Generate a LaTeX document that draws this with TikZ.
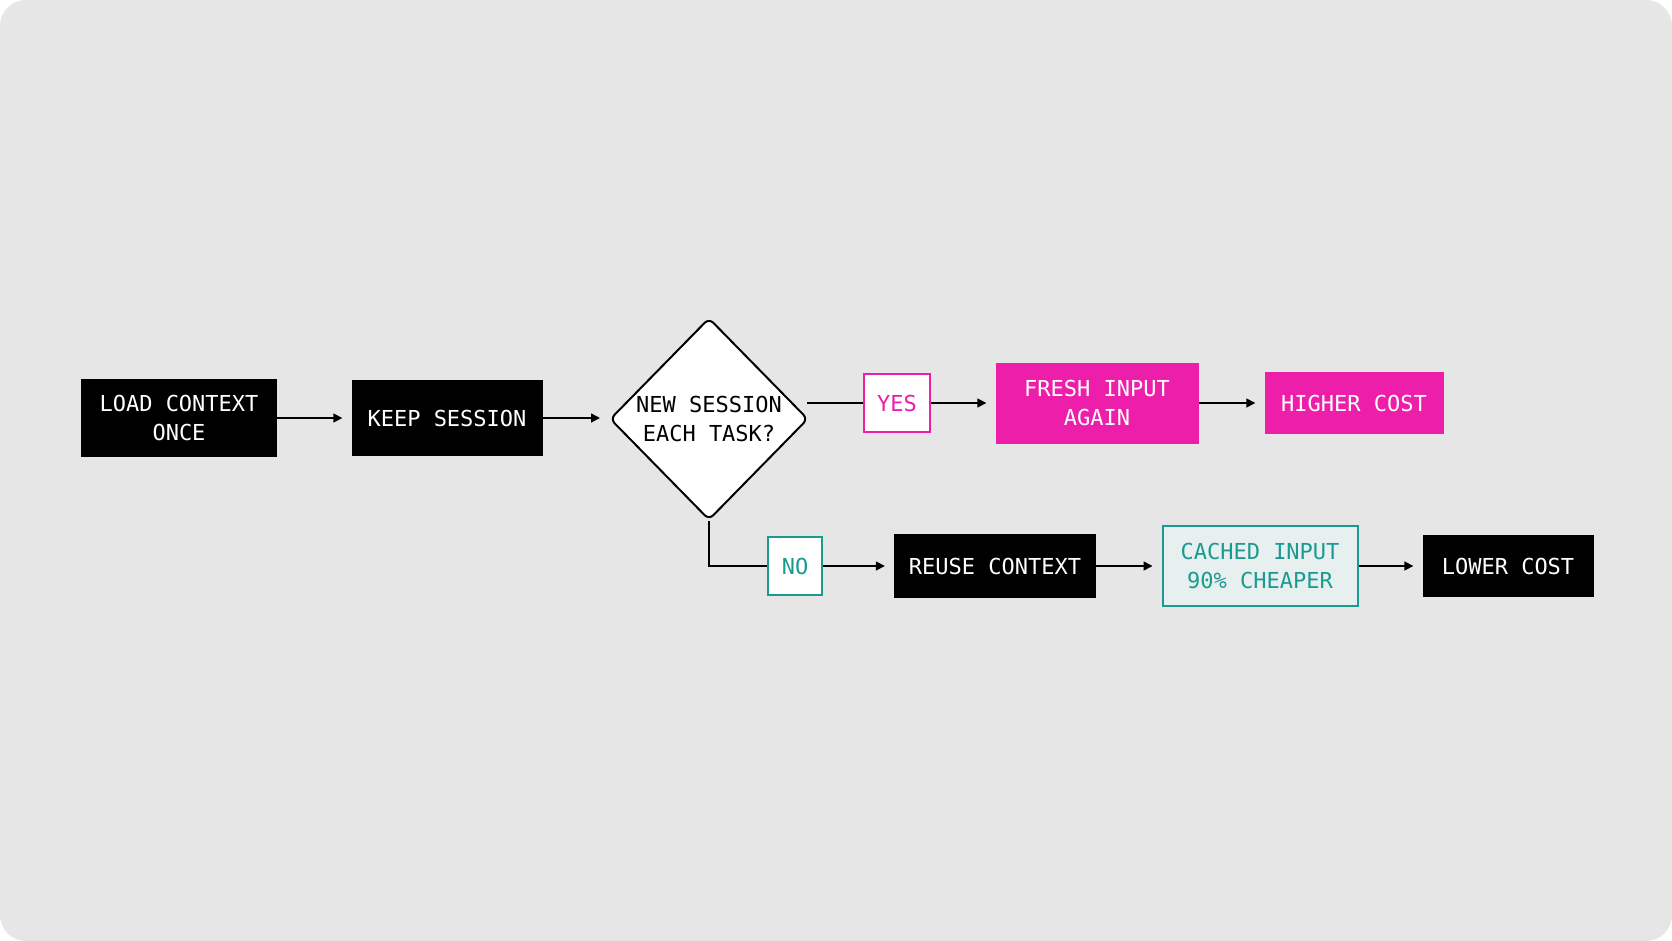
\documentclass[tikz,border=0pt]{standalone}
\usepackage{fontspec}
\setmonofont{DejaVu Sans Mono}
\usetikzlibrary{shapes.geometric,arrows.meta}
\definecolor{bg}{HTML}{E6E6E6}
\definecolor{mag}{HTML}{EC1EAA}
\definecolor{teal}{HTML}{1A9A90}
\definecolor{tealfill}{HTML}{E8F0EF}
\tikzset{
  base/.style={font=\ttfamily\fontsize{22}{29}\selectfont, align=center, inner sep=0pt},
  blackbox/.style={base, fill=black, text=white},
  magbox/.style={base, fill=mag, text=white},
  yesbox/.style={base, fill=white, draw=mag, line width=2pt, text=mag},
  nobox/.style={base, fill=white, draw=teal, line width=2pt, text=teal},
  cachebox/.style={base, fill=tealfill, draw=teal, line width=2pt, text=teal},
  decision/.style={base, diamond, fill=white, draw=black, line width=2pt, rounded corners=6pt, text=black},
  conn/.style={line width=1.6pt, draw=black},
  arr/.style={conn, -{Triangle[length=9pt,width=9pt]}, shorten >=9pt},
}
\begin{document}
\begin{tikzpicture}[x=1pt,y=-1pt]
\useasboundingbox (0,0) rectangle (1672,941);
\fill[white] (0,0) rectangle (1672,941);
\fill[bg, rounded corners=26pt] (0,0) rectangle (1672,941);

\node[blackbox, minimum width=196pt, minimum height=78pt] (load) at (179,418) {LOAD CONTEXT\\ONCE};
\node[blackbox, minimum width=191pt, minimum height=76pt] (keep) at (447,418) {KEEP SESSION};
\node[decision, minimum width=198pt, minimum height=202pt] (dec) at (709,419) {NEW SESSION\\EACH TASK?};
\node[yesbox, minimum width=66pt, minimum height=58pt] (yes) at (897,403) {YES};
\node[magbox, minimum width=203pt, minimum height=81pt] (fresh) at (1097,403) {FRESH INPUT\\AGAIN};
\node[magbox, minimum width=179pt, minimum height=62pt] (higher) at (1354,403) {HIGHER COST};
\node[nobox, minimum width=54pt, minimum height=58pt] (no) at (795,566) {NO};
\node[blackbox, minimum width=202pt, minimum height=64pt] (reuse) at (995,566) {REUSE CONTEXT};
\node[cachebox, minimum width=195pt, minimum height=80pt] (cached) at (1260,566) {CACHED INPUT\\90\% CHEAPER};
\node[blackbox, minimum width=171pt, minimum height=62pt] (lower) at (1508,566) {LOWER COST};

\draw[arr] (load.east) -- (keep.west);
\draw[arr] (keep.east) -- (keep.east -| dec.west);
\draw[conn] (yes.west) -- ([xshift=-2pt]yes.west -| dec.east);
\draw[arr] (yes.east) -- (fresh.west);
\draw[arr] (fresh.east) -- (fresh.east -| higher.west);
\draw[conn] (dec.south) |- (no.west);
\draw[arr] (no.east) -- (reuse.west);
\draw[arr] (reuse.east) -- (cached.west);
\draw[arr] (cached.east) -- (lower.west);
\end{tikzpicture}
\end{document}
